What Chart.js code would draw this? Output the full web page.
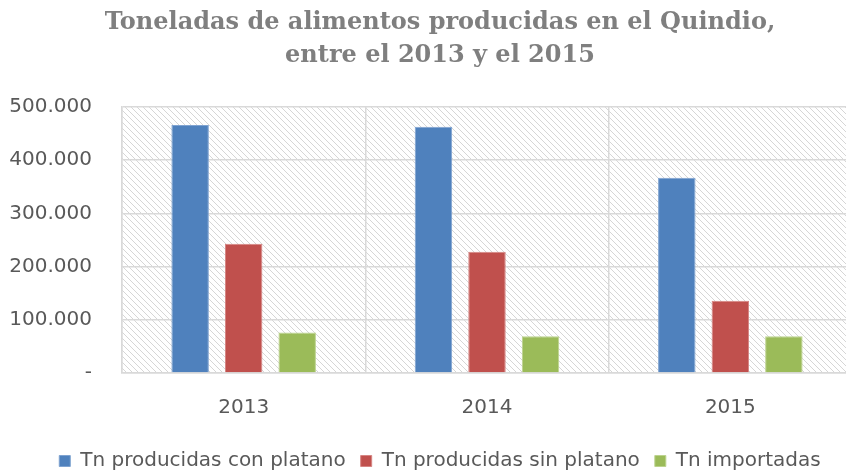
<!DOCTYPE html>
<html>
<head>
<meta charset="utf-8">
<script src="https://cdn.jsdelivr.net/npm/chart.js@4.4.0/dist/chart.umd.min.js"></script>
<style>
  body { margin: 0; background: #fff; overflow: hidden; }
  #wrap { width: 880px; height: 471px; }
</style>
</head>
<body>
<div id="wrap"><canvas id="tnChart" width="880" height="471"></canvas></div>
<script>
// data
const years = ['2013', '2014', '2015'];
const conPlatano = [466000, 463000, 367000];
const sinPlatano = [243000, 228000, 136000];
const importadas = [76000, 69000, 69000];
const seriesNames = ['Tn producidas con platano', 'Tn producidas sin platano', 'Tn importadas'];
const yTicks = [0, 100000, 200000, 300000, 400000, 500000];

function fmtMiles(v) {
  if (v === 0) return '-';
  return String(v).replace(/\B(?=(\d{3})+(?!\d))/g, '.');
}

// hatch for the plot area
function makeHatch() {
  const s = 6;
  const c = document.createElement('canvas');
  c.width = s; c.height = s;
  const g = c.getContext('2d');
  g.fillStyle = '#ffffff';
  g.fillRect(0, 0, s, s);
  g.strokeStyle = '#d6d6d6';
  g.lineWidth = 1;
  g.beginPath();
  g.moveTo(-1, -1); g.lineTo(s + 1, s + 1);
  g.moveTo(-1, s - 1); g.lineTo(1, s + 1);
  g.moveTo(s - 1, -1); g.lineTo(s + 1, 1);
  g.stroke();
  return g.createPattern(c, 'repeat');
}

const hatchBg = {
  id: 'hatchBg',
  afterLayout(chart) {
    // the excel chart is centred on a wider frame than the plot, shift title + legend
    if (chart.titleBlock) chart.titleBlock.left = 28;
    if (chart.legend) chart.legend.left = 28;
  },
  beforeDraw(chart) {
    const a = chart.chartArea;
    const ctx = chart.ctx;
    ctx.save();
    ctx.fillStyle = makeHatch();
    ctx.fillRect(a.left, a.top, a.right - a.left, a.bottom - a.top);
    ctx.restore();
  }
};

const ctx = document.getElementById('tnChart').getContext('2d');
new Chart(ctx, {
  type: 'bar',
  data: {
    labels: years,
    datasets: [
      { label: seriesNames[0], data: conPlatano, backgroundColor: '#4f81bd', borderColor: '#7fa3d1', borderWidth: 1 },
      { label: seriesNames[1], data: sinPlatano, backgroundColor: '#c0504d', borderColor: '#d68583', borderWidth: 1 },
      { label: seriesNames[2], data: importadas, backgroundColor: '#9bbb59', borderColor: '#bcd38e', borderWidth: 1 }
    ]
  },
  options: {
    responsive: false,
    animation: false,
    categoryPercentage: 0.66,
    barPercentage: 0.7,
    layout: { padding: { left: 0, right: 28, top: 0, bottom: -10 } },
    plugins: {
      tooltip: { enabled: false },
      title: {
        display: true,
        text: ['Toneladas de alimentos producidas en el Quindio,', 'entre el 2013 y el 2015'],
        color: '#7f7f7f',
        font: { family: '"DejaVu Serif", serif', size: 24, weight: 'bold', lineHeight: 1.375 },
        padding: { top: 6, bottom: 35 }
      },
      legend: {
        position: 'bottom',
        labels: {
          color: '#595959',
          font: { family: '"DejaVu Sans", sans-serif', size: 20 },
          boxWidth: 11,
          boxHeight: 11,
          padding: 15
        }
      }
    },
    scales: {
      x: {
        offset: true,
        afterFit(scale) { scale.height -= 7; },
        grid: { offset: true, color: '#d9d9d9', lineWidth: 1.5, drawTicks: false },
        border: { color: '#d9d9d9', width: 1.5 },
        ticks: { color: '#595959', font: { family: '"DejaVu Sans", sans-serif', size: 20 }, padding: 23 }
      },
      y: {
        min: 0,
        max: 500000,
        afterFit(scale) { scale.width = 122; },
        afterBuildTicks(scale) { scale.ticks = yTicks.map(v => ({ value: v })); },
        grid: { color: '#d9d9d9', lineWidth: 1.5, drawTicks: false },
        border: { color: '#d9d9d9', width: 1.5 },
        ticks: {
          color: '#595959',
          font: { family: '"DejaVu Sans", sans-serif', size: 20 },
          padding: 30,
          callback: (v) => fmtMiles(v)
        }
      }
    }
  },
  plugins: [hatchBg]
});
</script>
</body>
</html>
